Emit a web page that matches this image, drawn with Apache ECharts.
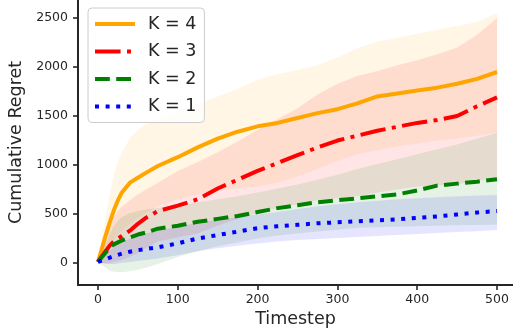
<!DOCTYPE html>
<html>
<head>
<meta charset="utf-8">
<script src="https://cdn.jsdelivr.net/npm/echarts@6/dist/echarts.min.js"></script>
<style>
  html, body { margin: 0; padding: 0; background: #fff; }
  #chart { width: 513px; height: 336px; }
</style>
</head>
<body>
<div id="chart"></div>
<script>
// timesteps where the curves were sampled
const timestep = [0, 5, 10, 15, 20, 25, 30, 40, 50, 60, 75, 100, 125, 150, 175, 200, 225, 250, 275, 300, 325, 350, 375, 400, 425, 450, 475, 500];

// K = 4
const k4Mean  = [10, 150, 290, 420, 540, 640, 720, 820, 870, 920, 990, 1080, 1180, 1270, 1340, 1395, 1430, 1480, 1530, 1570, 1630, 1700, 1730, 1760, 1790, 1830, 1880, 1950];
const k4Lower = [10, 60, 120, 180, 240, 290, 330, 400, 460, 510, 580, 650, 700, 740, 760, 780, 820, 880, 960, 1040, 1110, 1150, 1190, 1220, 1250, 1270, 1300, 1330];
const k4Upper = [10, 250, 480, 700, 900, 1030, 1130, 1270, 1360, 1410, 1470, 1560, 1620, 1700, 1780, 1870, 1930, 1970, 2020, 2100, 2190, 2260, 2300, 2340, 2380, 2420, 2460, 2550];

// K = 3
const k3Mean  = [10, 70, 125, 180, 220, 250, 275, 330, 400, 460, 530, 585, 650, 760, 850, 940, 1020, 1100, 1180, 1250, 1300, 1350, 1390, 1430, 1460, 1500, 1600, 1690];
const k3Lower = [10, 0, -10, 0, 10, 20, 30, 60, 100, 150, 220, 260, 300, 380, 450, 510, 560, 600, 640, 660, 680, 720, 750, 780, 790, 800, 840, 870];
const k3Upper = [10, 150, 280, 390, 470, 530, 580, 640, 700, 750, 820, 940, 1030, 1130, 1240, 1360, 1470, 1580, 1720, 1830, 1910, 1960, 2020, 2070, 2130, 2200, 2330, 2500];

// K = 2
const k2Mean  = [10, 60, 110, 160, 190, 210, 230, 260, 290, 310, 350, 380, 420, 450, 480, 520, 560, 590, 620, 640, 660, 680, 700, 740, 790, 810, 830, 855];
const k2Lower = [10, -20, -50, -80, -90, -95, -95, -85, -70, -50, -10, 60, 120, 170, 210, 250, 280, 300, 320, 340, 360, 365, 370, 375, 380, 385, 388, 390];
const k2Upper = [10, 110, 200, 300, 380, 430, 470, 510, 530, 545, 560, 590, 620, 650, 680, 720, 760, 800, 850, 900, 960, 1010, 1060, 1110, 1160, 1210, 1270, 1330];

// K = 1
const k1Mean  = [10, 25, 40, 55, 70, 82, 95, 115, 130, 142, 160, 200, 250, 285, 320, 355, 375, 390, 405, 415, 425, 435, 445, 460, 475, 495, 515, 530];
const k1Lower = [10, 0, -5, -10, -10, -5, 0, 10, 20, 30, 45, 80, 120, 150, 175, 200, 220, 235, 245, 255, 265, 275, 285, 295, 305, 315, 325, 337];
const k1Upper = [10, 50, 90, 130, 160, 190, 215, 250, 280, 300, 330, 370, 410, 440, 470, 495, 520, 550, 580, 600, 620, 635, 650, 660, 670, 680, 690, 695];

const xTicks = [0, 100, 200, 300, 400, 500];
const yTicks = [0, 500, 1000, 1500, 2000, 2500];

const font = 'DejaVu Sans';
const ink = '#262626';

const runs = [
  { name: 'K = 4', color: '#ffa500', mean: k4Mean, lower: k4Lower, upper: k4Upper, dash: 'solid' },
  { name: 'K = 3', color: '#ff0000', mean: k3Mean, lower: k3Lower, upper: k3Upper, dash: [25.6, 6.4, 4, 6.4] },
  { name: 'K = 2', color: '#008000', mean: k2Mean, lower: k2Lower, upper: k2Upper, dash: [14.8, 6.4] },
  { name: 'K = 1', color: '#0000ff', mean: k1Mean, lower: k1Lower, upper: k1Upper, dash: [4, 6.6] },
];

const pairs = ys => timestep.map((t, i) => [t, ys[i]]);

// shaded bands, one polygon per run (drawn once, on the first item)
const bands = runs.map(r => ({
  type: 'custom', silent: true, z: 1,
  data: timestep.map((t, i) => [t, r.lower[i], r.upper[i]]),
  encode: { x: 0, y: [1, 2] },
  renderItem: (params, api) => {
    if (params.dataIndex !== 0) return;
    const top = timestep.map((t, i) => api.coord([t, r.upper[i]]));
    const bottom = timestep.map((t, i) => api.coord([t, r.lower[i]])).reverse();
    return {
      type: 'polygon',
      shape: { points: top.concat(bottom) },
      style: { fill: r.color, opacity: 0.1 },
    };
  },
}));

const lines = runs.map(r => ({
  name: r.name, type: 'line', z: 3,
  data: pairs(r.mean), symbol: 'none', showSymbol: false,
  itemStyle: { color: r.color },
  lineStyle: { color: r.color, width: 4, type: r.dash, cap: 'butt' },
}));

const chart = echarts.init(document.getElementById('chart'), null, { renderer: 'canvas' });
chart.setOption({
  animation: false,
  grid: { left: 78, right: 0, top: 0, bottom: 51, containLabel: false, outerBoundsMode: 'none' },
  legend: {
    data: runs.map(r => ({ name: r.name, lineStyle: { width: 4, type: r.dash, cap: 'butt', color: r.color } })),
    orient: 'vertical', left: 88, top: 8,
    padding: [6, 8, 6, 5],
    itemWidth: 40, itemHeight: 20, itemGap: 7.5,
    backgroundColor: 'rgba(255,255,255,0.8)',
    borderColor: '#cccccc', borderWidth: 1, borderRadius: 4,
    selectedMode: false,
    itemStyle: { color: 'rgba(0,0,0,0)', borderWidth: 0, opacity: 0 },
    textStyle: { fontFamily: font, fontSize: 17.5, color: ink, lineHeight: 20, padding: [0, 0, 0, 8] },
  },
  xAxis: {
    type: 'value', min: -25, max: 520,
    name: 'Timestep', nameLocation: 'middle', nameGap: 24,
    nameTextStyle: { fontFamily: font, fontSize: 17.5, color: ink },
    axisLine: { onZero: false, lineStyle: { color: ink, width: 2 } },
    axisTick: { show: true, length: 5, customValues: xTicks, lineStyle: { color: ink, width: 1.6 } },
    axisLabel: { customValues: xTicks, formatter: v => String(v), margin: 8, fontFamily: font, fontSize: 12.5, color: ink },
    splitLine: { show: false },
  },
  yAxis: {
    type: 'value', min: -225, max: 2685,
    name: 'Cumulative Regret', nameLocation: 'middle', nameGap: 47,
    nameTextStyle: { fontFamily: font, fontSize: 17.5, color: ink },
    axisLine: { show: true, onZero: false, lineStyle: { color: ink, width: 2 } },
    axisTick: { show: true, length: 5, customValues: yTicks, lineStyle: { color: ink, width: 1.6 } },
    axisLabel: { customValues: yTicks, formatter: v => String(v), margin: 10, fontFamily: font, fontSize: 12.5, color: ink },
    splitLine: { show: false },
  },
  series: [...bands, ...lines],
});
</script>
</body>
</html>
